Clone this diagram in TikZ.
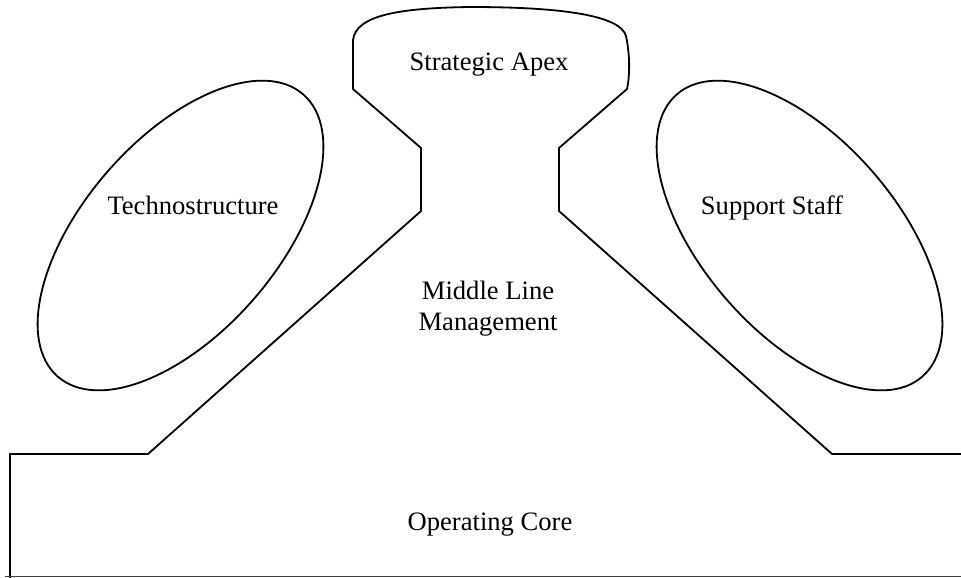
\documentclass[tikz,border=0pt]{standalone}
\usepackage{fontspec}
\setmainfont{Liberation Serif}
\usetikzlibrary{calc}
\tikzset{
	part/.style={line width=0.9pt, line join=miter},
	parttext/.style={font=\fontsize{13.3}{15.5}\selectfont, align=center, inner sep=0pt}
}

\begin{document}
\begin{tikzpicture}[x=0.5pt, y=-0.5pt]
			%%%%% START %%%%%
			\useasboundingbox (0, 0) rectangle (961, 577);
			
			% centres of the two side units
			\coordinate (technoc) at (180.5, 235.5);
			\coordinate (supportc) at (799.5, 235.5);
			
			% apex, middle line and core as one outline
			\draw[part] (10, 580) -- (10, 454) -- (148, 454) -- (421, 211) -- (421, 148) -- (353, 89) -- (353, 40)
				.. controls (356, 15) and (400, 8) .. (470, 7)
				.. controls (560, 7) and (620, 15) .. (626, 36)
				.. controls (630, 55) and (630, 75) .. (627, 89)
				-- (559, 148) -- (559, 211) -- (832, 454) -- (970, 454);
			\draw[part, color=black!75] (5, 576.5) -- (970, 576.5);
			
			% staff units
			\draw[part, rotate around={49:(technoc)}] (technoc) ellipse [x radius=187, y radius=97];
			\draw[part, rotate around={-49:(supportc)}] (supportc) ellipse [x radius=187, y radius=97];
			
			\node[parttext, anchor=base] (apex) at (489, 71) {Strategic Apex};
			\node[parttext, anchor=base] (techno) at (193, 214) {Technostructure};
			\node[parttext, anchor=base] (support) at (772, 214) {Support Staff};
			\node[parttext] (middle) at (488, 309) {Middle Line\\Management};
			\node[parttext, anchor=base] (core) at (490, 530) {Operating Core};
			
			%%%%% END %%%%%
		\end{tikzpicture}
\end{document}
